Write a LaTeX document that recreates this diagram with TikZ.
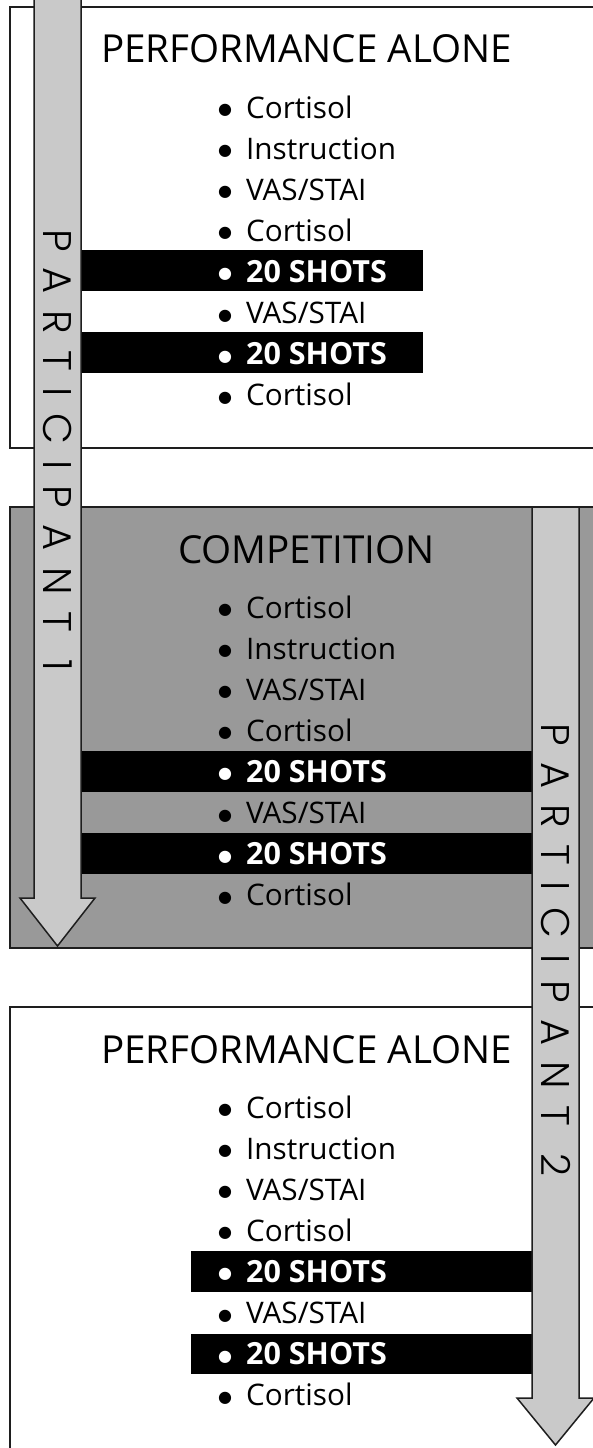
\documentclass[tikz,border=0pt]{standalone}
\usepackage{fontspec}
\setmainfont{Open Sans}
\newfontfamily\geo{Poppins Light}
\newfontfamily\bulletfont{DejaVu Sans}
\definecolor{boxgray}{RGB}{153,153,153}
\definecolor{arrgray}{RGB}{201,201,201}
\definecolor{edge}{RGB}{30,30,30}
\newcommand{\bul}{\makebox[0pt][r]{\raisebox{3.5pt}{\bulletfont\fontsize{16}{16}\selectfont ●}\hspace{14pt}}}
\begin{document}
\begin{tikzpicture}[x=1pt,y=-1pt,
  stage/.style={draw=edge, line width=2pt},
  bar/.style={fill=black},
  title/.style={font=\fontsize{38.6}{40}\selectfont, anchor=base, inner sep=0pt},
  item/.style={font=\fontsize{29.7}{30}\selectfont, anchor=base west, inner sep=0pt},
  shot/.style={font=\fontsize{30.5}{30}\selectfont\bfseries, anchor=base west, inner sep=0pt, text=white},
  flow/.style={draw=edge, line width=1.5pt, fill=arrgray, line join=miter},
  plabel/.style={font=\geo\fontsize{40}{40}\selectfont\addfontfeature{LetterSpace=41}, rotate=-90, inner sep=0pt}
]
\useasboundingbox (0,0) rectangle (593,1448);
\clip (0,0) rectangle (593,1448);

% stage boxes
\path[stage, fill=white]   (10,7)    rectangle (620,448);
\path[stage, fill=boxgray] (10,507)  rectangle (620,948);
\path[stage, fill=white]   (10,1007) rectangle (620,1470);

% black bars
\fill[bar] (80,250)   rectangle (423,291);
\fill[bar] (80,332)   rectangle (423,373);
\fill[bar] (80,751)   rectangle (532,792);
\fill[bar] (80,833)   rectangle (532,874);
\fill[bar] (191,1251) rectangle (532,1292);
\fill[bar] (191,1334) rectangle (532,1374);

% titles
\node[title] (t1) at (306.5,62)   {PERFORMANCE ALONE};
\node[title] (t2) at (306.5,563)  {COMPETITION};
\node[title] (t3) at (306.5,1063) {PERFORMANCE ALONE};

% item lists
\foreach \off/\nm in {0/a,500/b,1000/c}{
  \node[item] (\nm0) at (246,118+\off)       {\bul Cortisol};
  \node[item] (\nm1) at (246,159.1+\off)     {\bul Instruction};
  \node[item] (\nm2) at (246,200.2+\off)     {\bul VAS/STAI};
  \node[item] (\nm3) at (246,241.3+\off)     {\bul Cortisol};
  \node[shot] (\nm4) at (246,282.4+\off)     {\bul 20 SHOTS};
  \node[item] (\nm5) at (246,323.5+\off)     {\bul VAS/STAI};
  \node[shot] (\nm6) at (246,364.6+\off)     {\bul 20 SHOTS};
  \node[item] (\nm7) at (246,405.7+\off)     {\bul Cortisol};
}

% participant arrows
\draw[flow] (34,-5) -- (34,898) -- (20,898) -- (57.5,946) -- (95,898) -- (81,898) -- (81,-5) -- cycle;
\draw[flow] (532,507) -- (532,1398) -- (517,1398) -- (555.5,1445) -- (594,1398) -- (579,1398) -- (579,507) -- cycle;

\node[plabel] (p1) at (58,450)    {PARTICIPANT 1};
\node[plabel] (p2) at (555.5,950) {PARTICIPANT 2};
\end{tikzpicture}
\end{document}
